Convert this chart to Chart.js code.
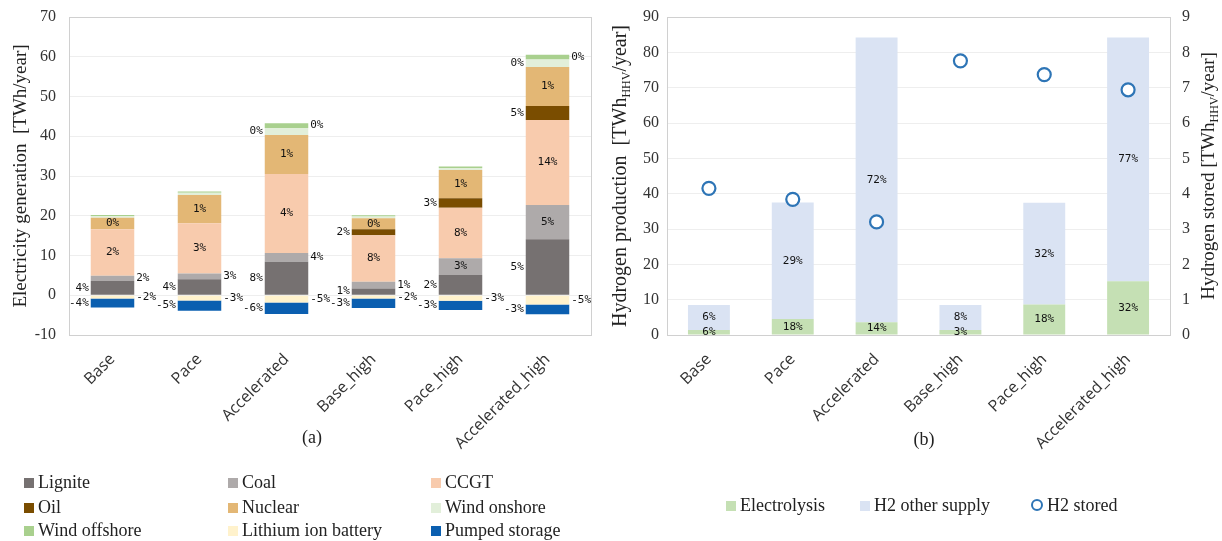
<!DOCTYPE html>
<html>
<head>
<meta charset="utf-8">
<script src="https://cdn.jsdelivr.net/npm/chart.js@4.4.1/dist/chart.umd.min.js"></script>
<style>
  body { margin: 0; background: #fff; width: 1222px; height: 541px; position: relative; overflow: hidden; }
  #ca { position: absolute; left: 0; top: 0; }
  #cb { position: absolute; left: 600px; top: 0; }
  .leg { position: absolute; font-family: 'Liberation Serif', serif; font-size: 18px; color: #222; white-space: nowrap; line-height: 20px; }
  .leg i { display: inline-block; width: 10px; height: 10px; margin-right: 4px; vertical-align: 0px; }
  .leg i.ring { width: 8px; height: 8px; border: 2px solid #2e75b6; border-radius: 50%; background: #fff; box-sizing: content-box; }
</style>
</head>
<body>
<canvas id="ca" width="600" height="541"></canvas>
<canvas id="cb" width="622" height="541"></canvas>
<div id="legA"></div>
<div id="legB"></div>
<script>
const scenarios = ['Base', 'Pace', 'Accelerated', 'Base_high', 'Pace_high', 'Accelerated_high'];

// (a) electricity generation, TWh/year
const lignite      = [3.6, 4.0, 8.4, 1.7, 5.1, 14.1];
const coal         = [1.3, 1.5, 2.2, 1.7, 4.2, 8.6];
const ccgt         = [11.7, 12.6, 19.9, 11.7, 12.7, 21.4];
const oil          = [0, 0, 0, 1.5, 2.4, 3.5];
const nuclear      = [2.9, 7.1, 9.8, 2.8, 7.1, 9.8];
const windOnshore  = [0.4, 0.6, 1.8, 0.4, 0.5, 1.9];
const windOffshore = [0.3, 0.3, 1.2, 0.3, 0.4, 1.2];
const liBattery    = [-0.8, -1.3, -1.8, -0.8, -1.4, -2.3];
const pumped       = [-2.3, -2.6, -2.9, -2.4, -2.3, -2.5];

const ligniteLbl  = ['4%', '4%', '8%', '1%', '2%', '5%'];
const coalLbl     = ['2%', '3%', '4%', '1%', '3%', '5%'];
const ccgtLbl     = ['2%', '3%', '4%', '8%', '8%', '14%'];
const oilLbl      = [null, null, null, '2%', '3%', '5%'];
const nuclearLbl  = ['0%', '1%', '1%', '0%', '1%', '1%'];
const windOnLbl   = [null, null, '0%', null, null, '0%'];
const windOffLbl  = [null, null, '0%', null, null, '0%'];
const liLbl       = ['-2%', '-3%', '-5%', '-2%', '-3%', '-5%'];
const pumpedLbl   = ['-4%', '-5%', '-6%', '-3%', '-3%', '-3%'];

// (b) hydrogen, TWh_HHV/year
const electrolysis = [1.4, 4.5, 3.6, 1.4, 8.6, 15.2];
const h2Other      = [7.1, 33.0, 80.6, 7.1, 28.8, 69.0];
const h2Stored     = [4.15, 3.84, 3.2, 7.76, 7.37, 6.94];
const electrolysisLbl = ['6%', '18%', '14%', '3%', '18%', '32%'];
const h2OtherLbl      = ['6%', '29%', '72%', '8%', '32%', '77%'];

const SERIF = "'Liberation Serif', serif";
const SANS = "'Open Sans', sans-serif";
const MONO = "'DejaVu Sans Mono', monospace";

// labels next to / inside each bar segment
const segLabels = {
  id: 'segLabels',
  afterDatasetsDraw(chart) {
    const ctx = chart.ctx;
    ctx.save();
    ctx.font = '11px ' + MONO;
    ctx.fillStyle = '#111';
    ctx.textBaseline = 'middle';
    chart.data.datasets.forEach((ds, i) => {
      if (!ds.lbl) return;
      const meta = chart.getDatasetMeta(i);
      meta.data.forEach((el, j) => {
        const t = ds.lbl[j];
        if (!t) return;
        const pos = Array.isArray(ds.lblPos) ? ds.lblPos[j] : (ds.lblPos || 'in');
        const cy = (el.y + el.base) / 2;
        if (pos === 'left') {
          ctx.textAlign = 'right';
          ctx.fillText(t, el.x - el.width / 2 - 2, cy);
        } else if (pos === 'right') {
          ctx.textAlign = 'left';
          ctx.fillText(t, el.x + el.width / 2 + 2, cy);
        } else {
          ctx.textAlign = 'center';
          ctx.fillText(t, el.x, cy);
        }
      });
    });
    ctx.restore();
  }
};

// frame around the plot area
const frame = {
  id: 'frame',
  beforeDatasetsDraw(chart) {
    const a = chart.chartArea, ctx = chart.ctx;
    ctx.save();
    ctx.strokeStyle = '#d0d0d0';
    ctx.lineWidth = 1;
    ctx.strokeRect(Math.round(a.left) + 0.5, Math.round(a.top) + 0.5,
                   Math.round(a.right - a.left), Math.round(a.bottom - a.top));
    ctx.restore();
  }
};

// rotated axis titles with subscripts, plus the panel caption
const axisTitles = {
  id: 'axisTitles',
  afterDraw(chart, args, opts) {
    const ctx = chart.ctx, a = chart.chartArea;
    (opts.items || []).forEach(it => {
      ctx.save();
      ctx.translate(it.x, (a.top + a.bottom) / 2);
      ctx.rotate(-Math.PI / 2);
      ctx.fillStyle = '#222';
      ctx.textBaseline = 'alphabetic';
      ctx.textAlign = 'left';
      const size = it.size || 19;
      let w = 0;
      it.parts.forEach(p => {
        ctx.font = (p.sub ? '12px ' : size + 'px ') + SERIF;
        w += ctx.measureText(p.t).width;
      });
      let x = -w / 2;
      it.parts.forEach(p => {
        ctx.font = (p.sub ? '12px ' : size + 'px ') + SERIF;
        ctx.fillText(p.t, x, p.sub ? 10 : 6);
        x += ctx.measureText(p.t).width;
      });
      ctx.restore();
    });
    if (opts.caption) {
      ctx.save();
      ctx.font = '18px ' + SERIF;
      ctx.fillStyle = '#222';
      ctx.textAlign = 'center';
      ctx.textBaseline = 'middle';
      ctx.fillText(opts.caption.t, opts.caption.x, opts.caption.y);
      ctx.restore();
    }
  }
};

const xAxis = (h) => ({
  stacked: true,
  grid: { display: false },
  border: { display: false },
  ticks: { color: '#333', font: { family: SANS, size: 16 }, minRotation: 45, maxRotation: 45, padding: 7 },
  afterFit(s) { s.height = h; }
});

// tick labels pushed off the frame by an invisible tick mark, so the
// plot top is not pushed down by a large tick padding
const yTicks = (step) => ({
  stepSize: step, color: '#333', font: { family: SERIF, size: 16 }, padding: 3
});

const elecSeries = [
  { label: 'Lignite', data: lignite, color: '#767171', lbl: ligniteLbl, lblPos: 'left' },
  { label: 'Coal', data: coal, color: '#aeaaaa', lbl: coalLbl, lblPos: ['right', 'right', 'right', 'right', 'in', 'in'] },
  { label: 'CCGT', data: ccgt, color: '#f8cbad', lbl: ccgtLbl, lblPos: 'in' },
  { label: 'Oil', data: oil, color: '#7a4d00', lbl: oilLbl, lblPos: 'left' },
  { label: 'Nuclear', data: nuclear, color: '#e3b775', lbl: nuclearLbl, lblPos: 'in' },
  { label: 'Wind onshore', data: windOnshore, color: '#e2efda', lbl: windOnLbl, lblPos: 'left' },
  { label: 'Wind offshore', data: windOffshore, color: '#a9d08e', lbl: windOffLbl, lblPos: 'right' },
  { label: 'Lithium ion battery', data: liBattery, color: '#fff2cc', lbl: liLbl, lblPos: 'right' },
  { label: 'Pumped storage', data: pumped, color: '#0b5fb0', lbl: pumpedLbl, lblPos: 'left' }
];

new Chart(document.getElementById('ca'), {
  type: 'bar',
  data: {
    labels: scenarios,
    datasets: elecSeries.map(s => ({
      label: s.label, data: s.data, backgroundColor: s.color, borderWidth: 0,
      lbl: s.lbl, lblPos: s.lblPos, stack: 'gen',
      categoryPercentage: 1, barPercentage: 0.5
    }))
  },
  options: {
    responsive: false,
    animation: false,
    layout: { padding: { top: 17, left: 0, right: 9, bottom: 0 } },
    plugins: {
      legend: { display: false },
      tooltip: { enabled: false },
      axisTitles: {
        items: [{ x: 20, parts: [{ t: 'Electricity generation  [TWh/year]' }] }],
        caption: { t: '(a)', x: 312, y: 438 }
      }
    },
    scales: {
      x: xAxis(206),
      y: {
        stacked: true, min: -10, max: 70,
        grid: { color: '#eeeeee', tickLength: 10, tickColor: 'rgba(0,0,0,0)' },
        border: { display: false },
        ticks: yTicks(10),
        afterFit(s) { s.width = 69; }
      }
    }
  },
  plugins: [frame, segLabels, axisTitles]
});

new Chart(document.getElementById('cb'), {
  type: 'bar',
  data: {
    labels: scenarios,
    datasets: [
      { type: 'line', label: 'H2 stored', data: h2Stored, yAxisID: 'y2', showLine: false,
        pointStyle: 'circle', pointRadius: 6.5, pointBorderWidth: 2.2,
        borderColor: '#2e75b6', backgroundColor: '#fff', order: 0 },
      { label: 'Electrolysis', data: electrolysis, backgroundColor: '#c5e0b4', borderWidth: 0,
        lbl: electrolysisLbl, lblPos: 'in', categoryPercentage: 1, barPercentage: 0.5, order: 1 },
      { label: 'H2 other supply', data: h2Other, backgroundColor: '#dae3f3', borderWidth: 0,
        lbl: h2OtherLbl, lblPos: 'in', categoryPercentage: 1, barPercentage: 0.5, order: 1 }
    ]
  },
  options: {
    responsive: false,
    animation: false,
    layout: { padding: { top: 17, left: 0, right: 0, bottom: 0 } },
    plugins: {
      legend: { display: false },
      tooltip: { enabled: false },
      axisTitles: {
        items: [
          { x: 20, size: 20, parts: [{ t: 'Hydrogen production  [TWh' }, { t: 'HHV', sub: true }, { t: '/year]' }] },
          { x: 608, parts: [{ t: 'Hydrogen stored [TWh' }, { t: 'HHV', sub: true }, { t: '/year]' }] }
        ],
        caption: { t: '(b)', x: 324, y: 440 }
      }
    },
    scales: {
      x: xAxis(206),
      y: {
        stacked: true, min: 0, max: 90,
        grid: { color: '#eeeeee', tickLength: 5, tickColor: 'rgba(0,0,0,0)' },
        border: { display: false },
        ticks: yTicks(10),
        afterFit(s) { s.width = 67; }
      },
      y2: {
        position: 'right', min: 0, max: 9,
        grid: { display: false, tickLength: 9 },
        border: { display: false },
        ticks: yTicks(1),
        afterFit(s) { s.width = 52; }
      }
    }
  },
  plugins: [frame, segLabels, axisTitles]
});

// HTML legends built from the series
const legA = document.getElementById('legA');
const colX = [24, 228, 431], rowY = [472, 497, 520];
elecSeries.forEach((s, i) => {
  const d = document.createElement('div');
  d.className = 'leg';
  d.style.left = colX[i % 3] + 'px';
  d.style.top = rowY[Math.floor(i / 3)] + 'px';
  d.innerHTML = '<i style="background:' + s.color + '"></i>' + s.label;
  legA.appendChild(d);
});
const legB = document.getElementById('legB');
[['Electrolysis', '#c5e0b4', 726], ['H2 other supply', '#dae3f3', 860], ['H2 stored', null, 1031]].forEach(([t, c, x]) => {
  const d = document.createElement('div');
  d.className = 'leg';
  d.style.left = x + 'px';
  d.style.top = '495px';
  d.innerHTML = (c ? '<i style="background:' + c + '"></i>' : '<i class="ring"></i>') + t;
  legB.appendChild(d);
});
</script>
</body>
</html>
